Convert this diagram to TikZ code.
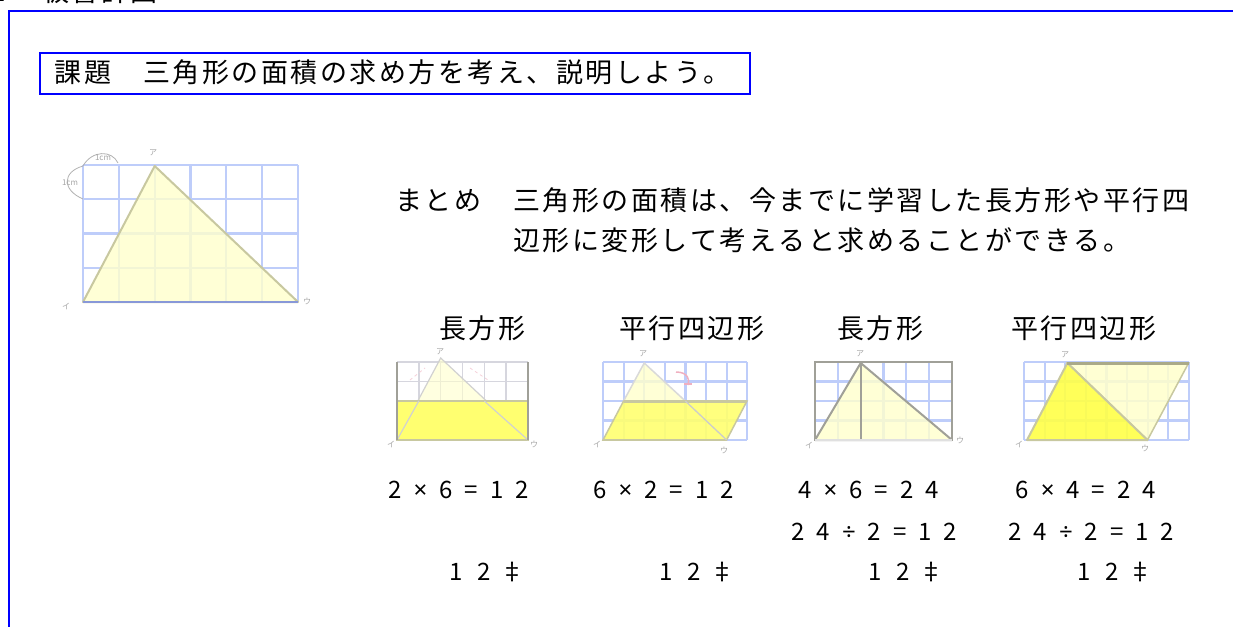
\documentclass[tikz,border=0pt]{standalone}
\usepackage{fontspec}
\newfontfamily\jp{Noto Sans CJK JP}
\newfontfamily\lat{Noto Sans}
\makeatletter
\newcommand\cellrow[2]{\def\cellw{#1}\cellrow@i#2\relax}
\def\cellrow@i#1{\ifx\relax#1\else\makebox[\cellw]{#1}\expandafter\cellrow@i\fi}
\makeatother
\newcommand\tms{{\lat\bfseries ×}}
\newcommand\dvd{{\lat ÷}}
\definecolor{frameblue}{RGB}{0,0,255}
\definecolor{gridblue}{RGB}{190,205,250}
\definecolor{gridgrey}{RGB}{214,214,222}
\definecolor{paleyellow}{RGB}{255,255,204}
\definecolor{midyellow}{RGB}{255,255,112}
\definecolor{strongyellow}{RGB}{255,255,72}
\definecolor{edgeolive}{RGB}{200,200,160}
\definecolor{edgegrey}{RGB}{160,160,152}
\definecolor{baseblue}{RGB}{136,152,216}
\definecolor{pinkarrow}{RGB}{240,176,192}
\tikzset{
  gridline/.style={draw=gridblue, line width=2.2pt},
  greygrid/.style={draw=gridgrey, line width=1.6pt},
  triedge/.style={draw=edgeolive, line width=2pt, line join=round},
  jptxt/.style={inner sep=0pt, anchor=base west, font=\jp\fontsize{27}{30}\selectfont},
  eqtxt/.style={inner sep=0pt, anchor=base west, font=\jp\fontsize{24}{28}\selectfont},
  tinylbl/.style={inner sep=0pt, font=\jp\fontsize{8}{8}\selectfont, text=black!35},
}
\begin{document}
\begin{tikzpicture}[x=1pt,y=-1pt]
\useasboundingbox (0,0) rectangle (1233,626);
\clip (0,0) rectangle (1233,626);
\fill[white] (0,0) rectangle (1233,626);

% heading (cut off at top)
\node[jptxt] (heading) at (-18,2) {\cellrow{29.5pt}{２　板書計画}};

% outer frame
\draw[frameblue, line width=2pt] (1245,11) -- (9,11) -- (9,640);

% title box
\node[draw=frameblue, line width=1.7pt, minimum width=710pt, minimum height=41pt,
      inner sep=0pt, anchor=north west] (titlebox) at (39,52) {};
\node[jptxt] (title) at (53.5,82.5) {\cellrow{29.5pt}{課題　三角形の面積の求め方を考え、説明しよう。}};

% ---------- big triangle picture ----------
\foreach \k in {0,...,6} \draw[gridline] ({83+35.83*\k},165) -- ({83+35.83*\k},302);
\foreach \j in {0,...,4} \draw[gridline] (83,{165+34.25*\j}) -- (298,{165+34.25*\j});
\filldraw[fill=paleyellow, fill opacity=0.8, triedge] (83,302) -- (154.7,166) -- (298,302) -- cycle;
\draw[baseblue, line width=2.5pt] (83,302) -- (298,302);
\draw[black!30, line width=0.8pt] (83,199) .. controls (62,190) and (62,172) .. (83,166);
\draw[black!30, line width=0.8pt] (83,166) .. controls (92,150) and (112,150) .. (118,163);
\node[tinylbl] (cmA) at (70,183) {1cm};
\node[tinylbl] (cmB) at (103,158) {1cm};
\node[tinylbl] (bA) at (153,153) {ア};
\node[tinylbl] (bI) at (66,306) {イ};
\node[tinylbl] (bU) at (307,301) {ウ};

% ---------- summary ----------
\node[jptxt] (sum1) at (394,210) {\cellrow{29.5pt}{まとめ　三角形の面積は、今までに学習した長方形や平行四}};
\node[jptxt] (sum2) at (512,250) {\cellrow{29.5pt}{辺形に変形して考えると求めることができる。}};

% ---------- labels ----------
\node[jptxt] (lab1) at (438,338) {\cellrow{29.5pt}{長方形}};
\node[jptxt] (lab2) at (618,338) {\cellrow{29.5pt}{平行四辺形}};
\node[jptxt] (lab3) at (836,338) {\cellrow{29.5pt}{長方形}};
\node[jptxt] (lab4) at (1010,338) {\cellrow{29.5pt}{平行四辺形}};

% ---------- sub picture 1 : rectangle (half height) ----------
\foreach \k in {0,...,6} \draw[greygrid] ({397+21.83*\k},362) -- ({397+21.83*\k},440);
\foreach \j in {0,...,4} \draw[greygrid] (397,{362+19.5*\j}) -- (528,{362+19.5*\j});
\fill[paleyellow, opacity=0.6] (397,440) -- (440.7,358) -- (528,440) -- cycle;
\draw[black!18, line width=1.2pt] (397,440) -- (440.7,358) -- (528,440);
\filldraw[fill=midyellow, draw=edgeolive, line width=2pt] (397,401) rectangle (528,440);
\draw[black!18, line width=1.2pt] (397,440) -- (418.8,401) (484.3,401) -- (528,440);
\draw[pinkarrow!60, line width=0.8pt, dashed] (410,380) -- (425,368) (470,368) -- (488,380);
\draw[edgegrey, line width=1.6pt] (397,362) -- (397,440) (528,362) -- (528,440);
\node[tinylbl] (s1A) at (440,352) {ア};
\node[tinylbl] (s1I) at (391,444) {イ};
\node[tinylbl] (s1U) at (534,444) {ウ};

% ---------- sub picture 2 : parallelogram (half height) ----------
\foreach \k in {0,...,7} \draw[gridline] ({603+20.6*\k},362) -- ({603+20.6*\k},440);
\foreach \j in {0,...,4} \draw[gridline] (603,{362+19.5*\j}) -- (747,{362+19.5*\j});
\filldraw[fill=paleyellow, fill opacity=0.8, draw=black!15, line width=1.5pt] (644.2,363) -- (623.6,401) -- (685.3,401) -- cycle;
\filldraw[fill=midyellow, fill opacity=0.9, draw=edgeolive, line width=1.5pt] (603,440) -- (623.6,401) -- (747,401) -- (726.6,440) -- cycle;
\draw[edgeolive, line width=3pt] (623.6,401) -- (747,401);
\draw[edgeolive, line width=2pt] (603,440) -- (726.6,440);
\draw[black!20, line width=1.3pt] (685.3,401) -- (726.6,440);
\draw[pinkarrow, line width=1.5pt] (676,372) .. controls (688,372) and (690,380) .. (688,385);
\draw[pinkarrow, line width=1.5pt] (684,384) -- (692,384);
\node[tinylbl] (s2A) at (643,354) {ア};
\node[tinylbl] (s2I) at (597,444) {イ};
\node[tinylbl] (s2U) at (724,450) {ウ};

% ---------- sub picture 3 : rectangle (full) ----------
\foreach \k in {0,...,6} \draw[gridline] ({815+22.83*\k},362) -- ({815+22.83*\k},440);
\foreach \j in {0,...,4} \draw[gridline] (815,{362+19.5*\j}) -- (952,{362+19.5*\j});
\filldraw[fill=paleyellow, fill opacity=0.8, draw=edgegrey, line width=2pt, line join=round] (815,440) -- (860.7,363) -- (952,440) -- cycle;
\draw[edgegrey, line width=2pt] (815,362) rectangle (952,440);
\draw[edgegrey, line width=2pt] (860.7,362) -- (860.7,440);
\draw[black!12, line width=2pt] (815,440) -- (952,440);
\node[tinylbl] (s3A) at (860,354) {ア};
\node[tinylbl] (s3I) at (809,445) {イ};
\node[tinylbl] (s3U) at (960,440) {ウ};

% ---------- sub picture 4 : parallelogram (full) ----------
\foreach \k in {0,...,8} \draw[gridline] ({1024+20.6*\k},362) -- ({1024+20.6*\k},440);
\foreach \j in {0,...,4} \draw[gridline] (1024,{362+19.5*\j}) -- (1189,{362+19.5*\j});
\filldraw[fill=paleyellow, fill opacity=0.85, draw=edgeolive, line width=1.5pt] (1067.4,363) -- (1188.6,363) -- (1147.5,440) -- cycle;
\filldraw[fill=strongyellow, fill opacity=0.9, draw=edgeolive, line width=2pt, line join=round] (1027,440) -- (1067.4,363) -- (1147.5,440) -- cycle;
\draw[edgeolive!85!black, line width=3pt] (1067.4,363) -- (1188.6,363);
\node[tinylbl] (s4A) at (1065,355) {ア};
\node[tinylbl] (s4I) at (1019,444) {イ};
\node[tinylbl] (s4U) at (1145,448) {ウ};

% ---------- equations ----------
\node[eqtxt] (e11) at (382.3,498) {\cellrow{25.4pt}{2\tms6=12}};
\node[eqtxt] (e21) at (587.3,498) {\cellrow{25.4pt}{6\tms2=12}};
\node[eqtxt] (e31) at (792.3,498) {\cellrow{25.4pt}{4\tms6=24}};
\node[eqtxt] (e41) at (1009.3,498) {\cellrow{25.4pt}{6\tms4=24}};
\node[eqtxt] (e32) at (785.3,540) {\cellrow{25.4pt}{24\dvd2=12}};
\node[eqtxt] (e42) at (1002.3,540) {\cellrow{25.4pt}{24\dvd2=12}};
\node[eqtxt] (r1) at (442,580) {\cellrow{28pt}{12‡}};
\node[eqtxt] (r2) at (652,580) {\cellrow{28pt}{12‡}};
\node[eqtxt] (r3) at (861,580) {\cellrow{28pt}{12‡}};
\node[eqtxt] (r4) at (1070,580) {\cellrow{28pt}{12‡}};
\end{tikzpicture}
\end{document}
